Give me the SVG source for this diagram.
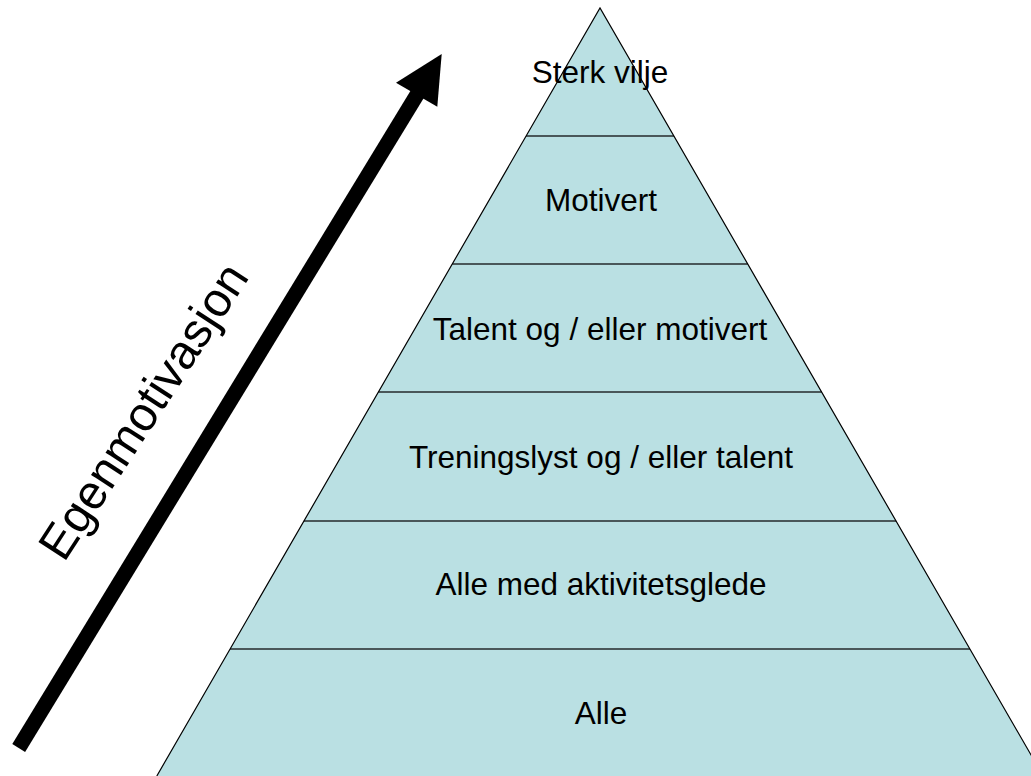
<svg xmlns="http://www.w3.org/2000/svg" width="1031" height="776" viewBox="0 0 1031 776">
<style>
.tier{fill:#BAE0E3;stroke:none}
.div{stroke:#4A5759;stroke-width:2;fill:none}
.edge{stroke:#000;stroke-width:1.2;fill:none}
.lbl{font-family:"Liberation Sans",Arial,sans-serif;font-size:31.5px;fill:#000;text-anchor:middle}
</style>
<rect width="1031" height="776" fill="#fff"/>
<g id="tier-1"><polygon class="tier" points="600,8 673.9,136 526.1,136"/><text class="lbl" x="600" y="83">Sterk vilje</text></g>
<g id="tier-2"><polygon class="tier" points="526.1,136 673.9,136 747.7,264 452.3,264"/><text class="lbl" x="601" y="211">Motivert</text></g>
<g id="tier-3"><polygon class="tier" points="452.3,264 747.7,264 821.6,392 378.4,392"/><text class="lbl" x="600" y="340">Talent og / eller motivert</text></g>
<g id="tier-4"><polygon class="tier" points="378.4,392 821.6,392 896.1,521 303.9,521"/><text class="lbl" x="601" y="468">Treningslyst og / eller talent</text></g>
<g id="tier-5"><polygon class="tier" points="303.9,521 896.1,521 969.9,649 230.1,649"/><text class="lbl" x="601" y="595">Alle med aktivitetsglede</text></g>
<g id="tier-6"><polygon class="tier" points="230.1,649 969.9,649 1043.2,776 156.8,776"/><text class="lbl" x="601" y="724">Alle</text></g>
<g id="connectors">
<line class="div" x1="526.1" y1="136" x2="673.9" y2="136"/>
<line class="div" x1="452.3" y1="264" x2="747.7" y2="264"/>
<line class="div" x1="378.4" y1="392" x2="821.6" y2="392"/>
<line class="div" x1="303.9" y1="521" x2="896.1" y2="521"/>
<line class="div" x1="230.1" y1="649" x2="969.9" y2="649"/>
<polyline class="edge" points="156.8,776 600,8 1043.2,776"/>
</g>
<g id="arrow">
<line x1="18.7" y1="748" x2="418" y2="93" stroke="#000" stroke-width="15"/>
<polygon points="441.7,54 437.3,106.7 396,82.7" fill="#000"/>
<text font-family="'Liberation Sans',Arial,sans-serif" font-size="48" text-anchor="middle" transform="translate(157,420) rotate(-57)">Egenmotivasjon</text>
</g>
</svg>
